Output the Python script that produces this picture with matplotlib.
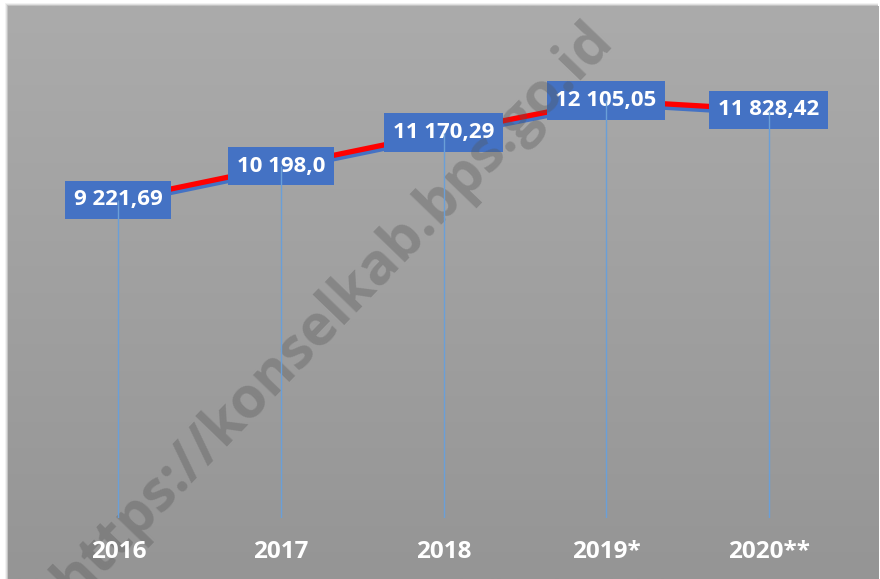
import numpy as np
import matplotlib.pyplot as plt
import matplotlib.patheffects as pe
from matplotlib.patches import Rectangle
from matplotlib.colors import LinearSegmentedColormap

# Data
years = ['2016', '2017', '2018', '2019*', '2020**']
values = [9221.69, 10198.0, 11170.29, 12105.05, 11828.42]
labels = ['9 221,69', '10 198,0', '11 170,29', '12 105,05', '11 828,42']

FONT = 'Open Sans'

W, H = 880, 579
fig = plt.figure(figsize=(W / 100, H / 100), dpi=100)
fig.patch.set_facecolor('white')

# soft shadow of the panel
for i, a in enumerate([0.05, 0.08, 0.12]):
    fig.patches.append(Rectangle(((5 + i) / W, 0), (873 - i) / W, (576 - i) / H,
                                 transform=fig.transFigure, facecolor='#000000',
                                 alpha=a, edgecolor='none', zorder=-5))

# gray gradient panel
bg = fig.add_axes([8 / W, 0, 870 / W, 573 / H], zorder=-1)
grad = np.linspace(0, 1, 256).reshape(-1, 1)
bg.imshow(grad, aspect='auto', cmap=LinearSegmentedColormap.from_list('g', ['#959595', '#ababab']),
          origin='lower', extent=[0, 1, 0, 1])
bg.set_axis_off()

# plot area: y=0 at pixel 518
bottom_px = 518
top_px = 35
ax = fig.add_axes([37 / W, (H - bottom_px) / H, 813 / W, (bottom_px - top_px) / H])
ax.set_facecolor('none')
x = np.arange(len(years))
ax.set_xlim(-0.5, len(years) - 0.5)
ax.set_ylim(0, 14000)

ax.vlines(x, 0, values, color='#6a9fd8', lw=1.0, zorder=5)
ax.plot(x, values, color='#ff0000', lw=3.8, solid_capstyle='round', zorder=2,
        path_effects=[pe.SimpleLineShadow(offset=(0, -2.5), shadow_color='#4472c4', alpha=1),
                      pe.Normal()])

for xi, v, lab in zip(x, values, labels):
    ax.text(xi, v, lab, ha='center', va='center', color='white', fontsize=16,
            fontweight='bold', family=FONT, zorder=3,
            bbox=dict(boxstyle='square,pad=0.39', facecolor='#4472c4', edgecolor='none'))

# watermark sits over the boxes, under the year labels
ax.text(334, H - 310, 'https://konselkab.bps.go.id', transform=None, fontsize=41,
        fontweight='bold', family=FONT, color='#555555', alpha=0.35, rotation=46,
        ha='center', va='center', rotation_mode='anchor', zorder=4, clip_on=False)

ax.set_xticks(x)
ax.set_xticklabels(years, fontsize=17.5, fontweight='bold', color='white', family=FONT)
ax.tick_params(axis='x', length=0, pad=16)
ax.xaxis.set_zorder(6)
ax.set_yticks([])
for s in ax.spines.values():
    s.set_visible(False)

fig.savefig('out.png', dpi=100)
